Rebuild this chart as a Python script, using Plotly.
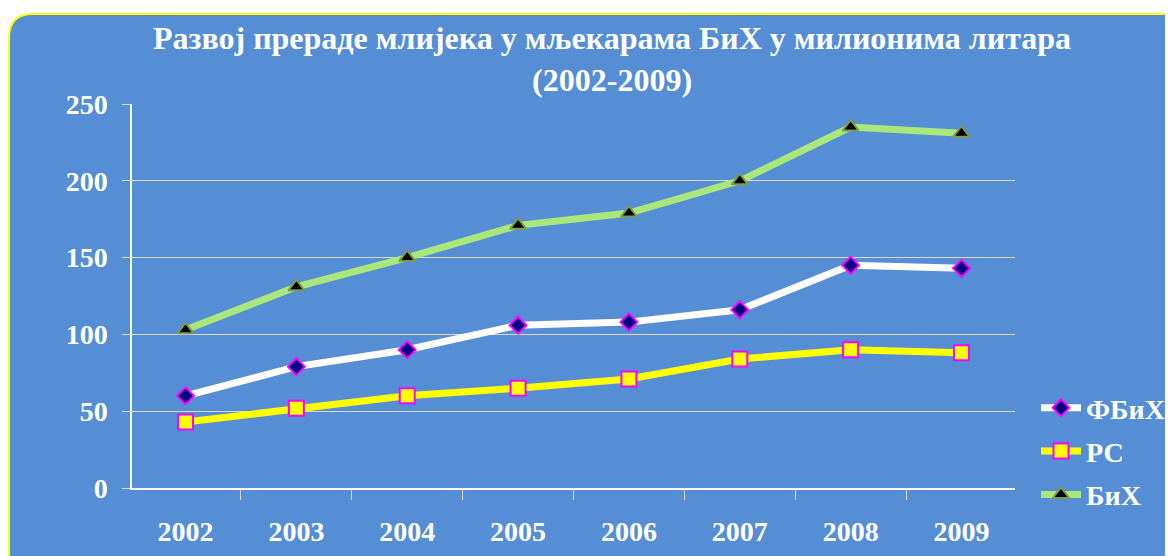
import plotly.graph_objects as go

years = ["2002", "2003", "2004", "2005", "2006", "2007", "2008", "2009"]
fbih = [60, 79, 90, 106, 108, 116, 145, 143]
rs = [43, 52, 60, 65, 71, 84, 90, 88]
bih = [103, 131, 150, 171, 179, 200, 235, 231]

OFF = 8  # page body margin
W, H = 1173 - OFF, 556 - OFF
L, R, T, B = 132 - OFF, 1015 - OFF, 104 - OFF, 488 - OFF

def px(x):
    return (x - OFF - L) / (R - L)

def py(y):
    return (B - (y - OFF)) / (B - T)

BLUE = "#558ED5"
FONT = "Liberation Serif"

fig = go.Figure()
fig.add_trace(go.Scatter(x=years, y=fbih, name="ФБиХ", mode="lines+markers", legendgroup="a",
                         line=dict(color="white", width=7),
                         marker=dict(symbol="diamond", size=13, color="#000080",
                                     line=dict(color="#FF00FF", width=2))))
fig.add_trace(go.Scatter(x=years, y=rs, name="РС", mode="lines+markers", legendgroup="b",
                         line=dict(color="#FFFF00", width=7),
                         marker=dict(symbol="square", size=15, color="#FFFF00",
                                     line=dict(color="#FF00FF", width=2))))
fig.add_trace(go.Scatter(x=years, y=bih, name="БиХ", mode="lines+markers", legendgroup="c",
                         line=dict(color="#A9E77B", width=7),
                         marker=dict(symbol="triangle-up", size=14, color="black",
                                     line=dict(color="#7F9A48", width=2))))

# rounded background panel
x0, x1, y0, y1, r = 9, 1200, 14, 580, 24
rx = r / (R - L)
ry = r / (B - T)
path = (f"M {px(x0)},{py(y1)} L {px(x0)},{py(y0)-ry} "
        f"Q {px(x0)},{py(y0)} {px(x0)+rx},{py(y0)} "
        f"L {px(x1)},{py(y0)} L {px(x1)},{py(y1)} Z")
fig.add_shape(type="path", path=path, xref="paper", yref="paper",
              fillcolor=BLUE, line=dict(color="#FFFF00", width=2), layer="below")

fig.add_annotation(text="Развој прераде млијека у мљекарама БиХ у милионима литара<br>(2002-2009)",
                   x=px(612), y=py(59), xref="paper", yref="paper", showarrow=False,
                   yanchor="middle",
                   font=dict(family=FONT, size=32, color="white", weight="bold"), align="center")

fig.update_layout(
    width=W, height=H,
    margin=dict(l=L, r=W - R, t=T, b=H - B, autoexpand=False),
    paper_bgcolor="white",
    plot_bgcolor="rgba(0,0,0,0)",
    showlegend=True,
    legend=dict(x=px(1036), y=py(383), xanchor="left", yanchor="top",
                font=dict(family=FONT, size=28, color="white", weight="bold"),
                bgcolor="rgba(0,0,0,0)", itemwidth=40, tracegroupgap=4),
    xaxis=dict(type="category", tickson="boundaries", ticks="outside", ticklen=10,
               tickcolor="#D9D9D9", showline=True, linecolor="white", linewidth=1.5,
               showgrid=False, tickfont=dict(family=FONT, size=28, color="white", weight="bold"),
               ticklabelstandoff=18),
    yaxis=dict(range=[0, 250], dtick=50, ticks="outside", ticklen=8, tickcolor="#D9D9D9",
               showline=True, linecolor="white", linewidth=1.5,
               showgrid=True, gridcolor="#D9D9D9", gridwidth=1, zeroline=False,
               tickfont=dict(family=FONT, size=28, color="white", weight="bold"),
               ticklabelstandoff=9),
)

fig.write_html("out.html")
